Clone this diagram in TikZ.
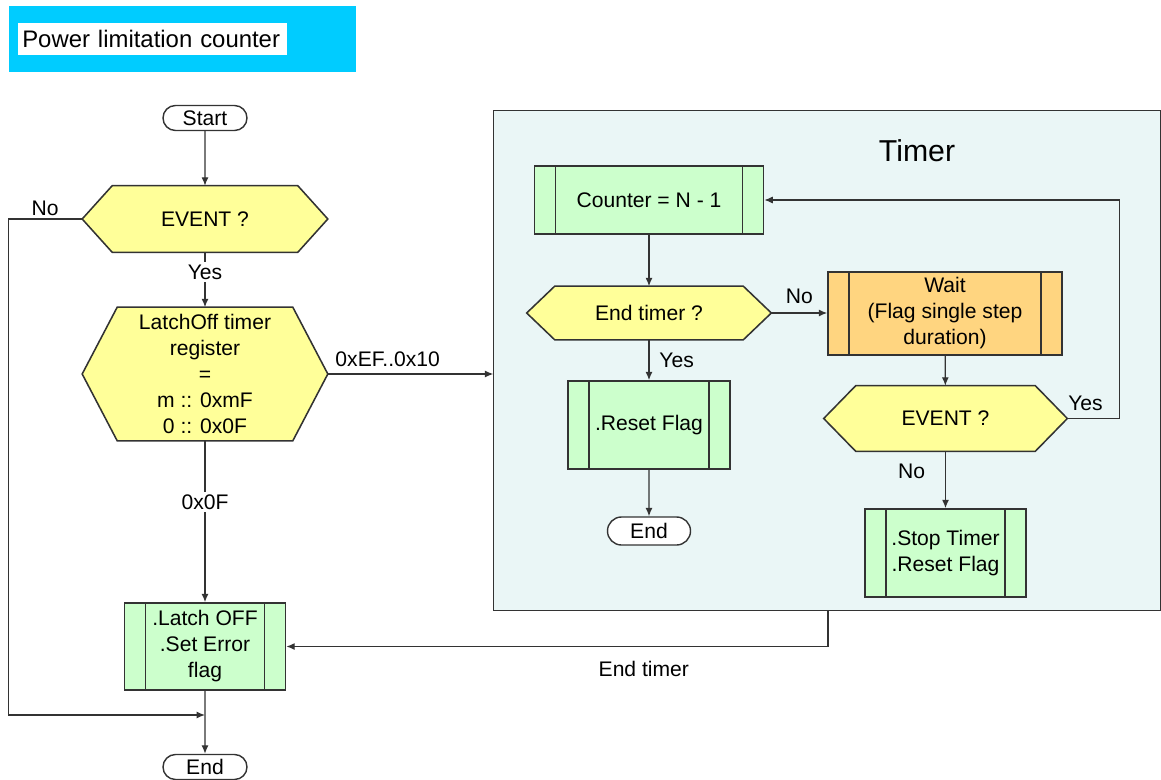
\documentclass[tikz,border=0pt]{standalone}
\usepackage{fontspec}
\setmainfont{Liberation Sans}
\usetikzlibrary{shapes.misc,arrows.meta,calc,backgrounds}
\definecolor{barcyan}{HTML}{00CCFF}
\definecolor{hexyellow}{HTML}{FFFF99}
\definecolor{subgreen}{HTML}{CCFFCC}
\definecolor{waitorange}{HTML}{FFD580}
\definecolor{timerbg}{HTML}{EAF6F6}
\definecolor{edgegray}{HTML}{333333}
\newcommand{\bodyfont}{\fontsize{15}{18.5}\selectfont}
% hexagon round a decision node, #2 = indent of the tips
\newcommand{\hexpath}[2]{%
  \filldraw[hexline] (#1.west) -- ($(#1.north west)+(#2,0)$) -- ($(#1.north east)+(-#2,0)$)
    -- (#1.east) -- ($(#1.south east)+(-#2,0)$) -- ($(#1.south west)+(#2,0)$) -- cycle;}
\tikzset{
  terminal/.style={rounded rectangle, draw=edgegray, line width=1pt, fill=white,
    minimum width=2.1cm, minimum height=0.625cm, inner sep=0pt, font=\bodyfont},
  decision/.style={rectangle, inner sep=0pt, align=center, font=\bodyfont},
  hexline/.style={draw=edgegray, line width=1.1pt, fill=hexyellow},
  subproc/.style={rectangle, draw=edgegray, line width=1.1pt, fill=subgreen,
    inner sep=0pt, align=center, font=\bodyfont,
    path picture={\draw[edgegray, line width=1.1pt]
      ([xshift=0.525cm]path picture bounding box.north west) -- ([xshift=0.525cm]path picture bounding box.south west)
      ([xshift=-0.525cm]path picture bounding box.north east) -- ([xshift=-0.525cm]path picture bounding box.south east);}},
  flow/.style={draw=edgegray, line width=0.9pt, -{Latex[length=6pt,width=5pt]}},
  lbl/.style={font=\bodyfont, inner sep=2pt},
}
\begin{document}
\begin{tikzpicture}[x=0.025cm, y=-0.025cm]
    \useasboundingbox (0,0) rectangle (1161,780);
    % Title bar
    \node[fill=barcyan, minimum width=8.675cm, minimum height=1.65cm, inner sep=0pt] (bar) at (182.5,39) {};
    \node[fill=white, anchor=west, text width=6.525cm, minimum height=0.8cm, inner xsep=0.1cm, inner ysep=0pt,
        align=left, font=\fontsize{17}{20}\selectfont] (title) at (18,39) {Power limitation counter};
    % Timer frame
    \begin{pgfonlayer}{background}
        \node[draw=edgegray, line width=0.8pt, fill=timerbg, minimum width=16.65cm, minimum height=12.475cm,
            inner sep=0pt] (timer) at (827,360.5) {};
    \end{pgfonlayer}
    \node[font=\fontsize{21.5}{24}\selectfont] (timertitle) at (917,151) {Timer};
    % Terminals
    \node[terminal] (start) at (205,118) {Start};
    \node[terminal] (end1) at (205,767) {End};
    \node[terminal, minimum width=2.075cm, minimum height=0.7cm] (end2) at (649,531) {End};
    % Decisions
    \node[decision, minimum width=6.125cm, minimum height=1.65cm] (event) at (205,219) {EVENT ?};
    \node[decision, minimum width=6.125cm, minimum height=3.325cm] (latchreg) at (205,374)
        {LatchOff timer\\register\\=\\m :: 0xmF\\0 :: 0x0F};
    \node[decision, minimum width=6.1cm, minimum height=1.325cm] (endtimer) at (649,313) {End timer ?};
    \node[decision, minimum width=6.075cm, minimum height=1.625cm] (event2) at (945.5,418.5) {EVENT ?};
    \begin{pgfonlayer}{background}
        \hexpath{event}{30}
        \hexpath{latchreg}{35}
        \hexpath{endtimer}{28}
        \hexpath{event2}{32}
    \end{pgfonlayer}
    % Sub-processes
    \node[subproc, minimum width=4.025cm, minimum height=2.175cm] (latchoff) at (205,646.5) {.Latch OFF\\.Set Error\\flag};
    \node[subproc, minimum width=5.725cm, minimum height=1.7cm] (counter) at (649,200) {Counter = N - 1};
    \node[subproc, fill=waitorange, minimum width=5.85cm, minimum height=2.075cm] (wait) at (945,313.5)
        {Wait\\(Flag single step\\duration)};
    \node[subproc, minimum width=4.05cm, minimum height=2.2cm] (reset) at (649,425) {.Reset Flag};
    \node[subproc, minimum width=4.025cm, minimum height=2.2cm] (stop) at (945.5,553) {.Stop Timer\\.Reset Flag};
    % Connectors, main flow
    \coordinate (merge) at (205,715);
    \coordinate (timerout) at (828,610);
    \draw[flow] (start) -- (event);
    \draw[flow] (event) -- node[lbl, fill=white, pos=0.36] {Yes} (latchreg);
    \draw[flow] (latchreg) -- node[lbl, fill=white, pos=0.38] {0x0F} (latchoff);
    \draw[flow] (latchoff) -- (end1);
    \draw[flow] (event.west) -- node[lbl, above] {No} ++(-74,0) |- (merge);
    \draw[flow] (latchreg.east) -- node[lbl, above right=3pt, pos=0] {0xEF..0x10} (latchreg.east -| timer.west);
    \draw[flow] (timerout) |- node[lbl, below=8pt, pos=0.67] {End timer} (latchoff.east);
    % Connectors, timer
    \draw[flow] (counter) -- (endtimer);
    \draw[flow] (endtimer.east) -- node[lbl, above=4pt] {No} (endtimer.east -| wait.west);
    \draw[flow] (endtimer) -- node[lbl, right=5pt] {Yes} (reset);
    \draw[flow] (reset) -- (end2);
    \draw[flow] (wait) -- (event2);
    \draw[flow] (event2.east) -- node[lbl, above=3pt, pos=0.35] {Yes} ++(52,0) |- (counter.east);
    \draw[flow] (event2) -- node[lbl, left=12pt, pos=0.36] {No} (stop);
\end{tikzpicture}
\end{document}
